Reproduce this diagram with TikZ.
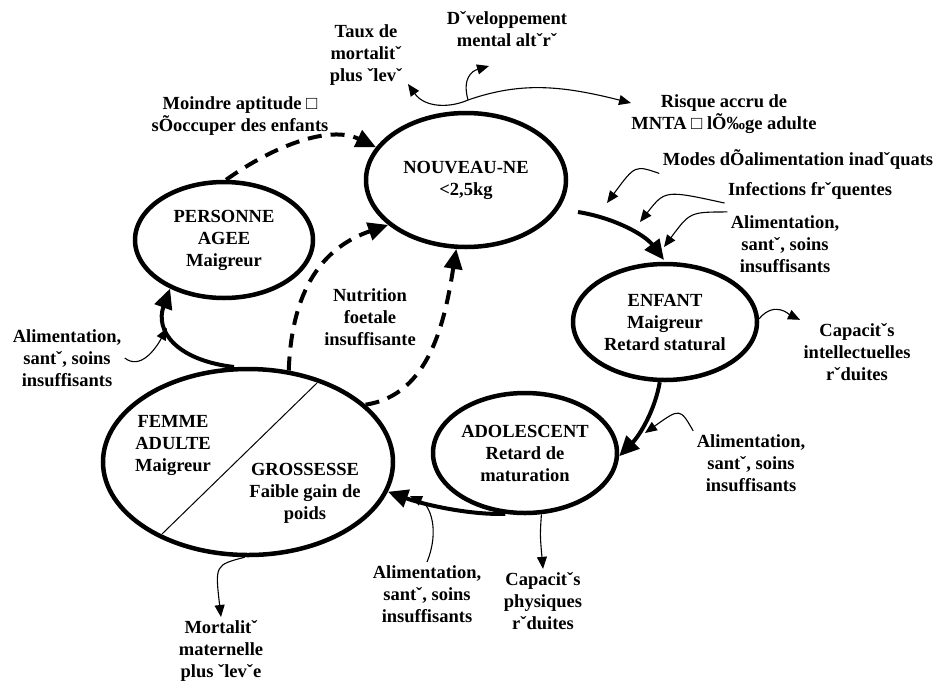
\documentclass[tikz,border=0pt]{standalone}
\usepackage{fontspec}
\setmainfont{Liberation Serif}
\usetikzlibrary{arrows.meta,positioning,shapes.geometric}
\tikzset{
  etape/.style={ellipse, draw, line width=4.5pt, inner sep=0pt, align=center},
  lbl/.style={align=center},
  cyclearrow/.style={line width=4pt, -{Triangle[length=20pt,width=18pt]}},
  indirect/.style={line width=4pt, dash pattern=on 14pt off 9pt, -{Triangle[length=20pt,width=18pt]}},
  effet/.style={line width=1.1pt, -{Triangle[length=12pt,width=10pt]}},
}
\begin{document}
\begin{tikzpicture}[x=1pt,y=-1pt,font=\fontsize{18.5}{22}\selectfont\bfseries]
\useasboundingbox (0,0) rectangle (937,686);
% stades du cycle de vie
\node[etape, minimum width=200, minimum height=134] (nouveau) at (466,180) {NOUVEAU-NE\\<2,5kg};
\node[etape, minimum width=178, minimum height=116] (agee) at (224,240) {PERSONNE\\AGEE\\Maigreur};
\node[etape, minimum width=184, minimum height=116] (enfant) at (665,322) {ENFANT\\Maigreur\\Retard statural};
\node[etape, minimum width=184, minimum height=120] (ado) at (525,453) {ADOLESCENT\\Retard de\\maturation};
\node[etape, minimum width=290, minimum height=186] (femme) at (248,462) {};
\node[lbl] (adulte) at (173,445) {FEMME\\ADULTE\\Maigreur};
\node[lbl] (grossesse) at (305,493) {GROSSESSE\\Faible gain de\\poids};
\draw[line width=1pt] (317,383) -- (162,534);
% textes
\node[lbl] (taux) at (366,55) {Taux de\\mortalitˇ\\plus ˇlevˇ};
\node[lbl] (devel) at (507,29) {Dˇveloppement\\mental altˇrˇ};
\node[lbl] (risque) at (724,114) {Risque accru de\\MNTA □ lÕ‰ge adulte};
\node[lbl] (moindre) at (240,116) {Moindre aptitude □\\sÕoccuper des enfants};
\node[lbl] (modes) at (798,160) {Modes dÕalimentation inadˇquats};
\node[lbl] (infect) at (810,191) {Infections frˇquentes};
\node[lbl] (alim1) at (785,244) {Alimentation,\\santˇ, soins\\insuffisants};
\node[lbl] (capint) at (857,352) {Capacitˇs\\intellectuelles\\rˇduites};
\node[lbl] (alim2) at (751,463) {Alimentation,\\santˇ, soins\\insuffisants};
\node[lbl] (nutri) at (370,317) {Nutrition\\foetale\\insuffisante};
\node[lbl] (alim3) at (67,358) {Alimentation,\\santˇ, soins\\insuffisants};
\node[lbl] (alim4) at (427,594) {Alimentation,\\santˇ, soins\\insuffisants};
\node[lbl] (capphy) at (543,601) {Capacitˇs\\physiques\\rˇduites};
\node[lbl] (mort) at (221,651) {Mortalitˇ\\maternelle\\plus ˇlevˇe};
% points libres
\coordinate (pli) at (468,100);
\coordinate (tauxpt) at (408,84);
\coordinate (develpt) at (489,66);
\coordinate (risquept) at (631,103);
\coordinate (nnout) at (578,212);
\coordinate (enfin) at (664,260);
\coordinate (t1) at (607,203);
\coordinate (t2) at (640,222);
\coordinate (t3) at (664,247);
\coordinate (t4) at (645,433);
\coordinate (t5) at (410,496);
\coordinate (t6) at (167,328);
\coordinate (cusp) at (234,367);
% cycle
\draw[cyclearrow] (nnout) .. controls (615,218) and (645,235) .. (enfin);
\draw[cyclearrow] (enfant.-95) .. controls (655,410) and (640,435) .. (ado.-2);
\draw[cyclearrow] (ado.-108) .. controls (470,515) and (425,505) .. (femme.-12);
\draw[cyclearrow] (cusp) .. controls (175,360) and (155,330) .. (agee.-138);
% effets indirects
\draw[indirect] (agee.88) .. controls (275,145) and (330,125) .. (nouveau.160);
\draw[indirect] (femme.66) .. controls (292,280) and (330,245) .. (nouveau.-150);
\draw[indirect] (femme.26) .. controls (430,395) and (445,320) .. (nouveau.-98);
% consequences et causes
\draw[effet] (pli) .. controls (450,108) and (425,108) .. (tauxpt);
\draw[effet] (pli) .. controls (520,82) and (560,85) .. (risquept);
\draw[effet] (pli) .. controls (462,78) and (472,71) .. (develpt);
\draw[effet] (modes.south west) .. controls (635,165) .. (t1);
\draw[effet] (infect.south west) .. controls (665,190) .. (t2);
\draw[effet] (alim1.north west) .. controls (690,212) .. (t3);
\draw[effet] (enfant.2) .. controls (775,300) and (790,315) .. (capint.north west);
\draw[effet] (alim2.north west) .. controls (680,408) .. (t4);
\draw[effet] (ado.-75) .. controls (540,535) .. (capphy.north);
\draw[effet] (alim4.north) .. controls (440,530) and (430,505) .. (t5);
\draw[effet] (alim3.east) .. controls (140,370) and (155,350) .. (t6);
\draw[effet] (femme.-92) .. controls (215,565) .. (mort.north);
\end{tikzpicture}
\end{document}
